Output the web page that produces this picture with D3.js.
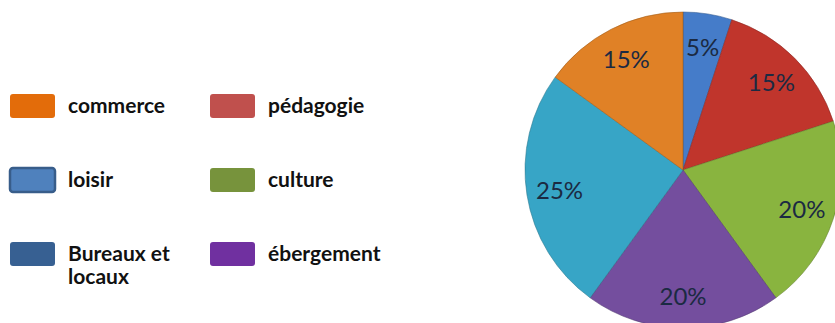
<!DOCTYPE html>
<html><head><meta charset="utf-8">
<script src="https://cdn.jsdelivr.net/npm/d3@7"></script>
<style>html,body{margin:0;padding:0;background:#fff;}svg{display:block;}</style>
</head><body>
<svg id="chart" width="835" height="323"></svg>
<script>
// Legend
const legendLabels = [["commerce"], ["pédagogie"], ["loisir"], ["culture"], ["Bureaux et", "locaux"], ["ébergement"]];
const legendColors = ["#e36c0a", "#c0504d", "#4f81bd", "#77933c", "#376092", "#7030a0"];
const legendStrokes = ["none", "none", "#385d8a", "none", "none", "none"];
// Pie slices, clockwise from 12 o'clock
const sliceNames = ["s1", "s2", "s3", "s4", "s5", "s6"];
const sliceValues = [5, 15, 20, 20, 25, 15];
const sliceLabels = ["5%", "15%", "20%", "20%", "25%", "15%"];
const sliceColors = ["#4d8ae0", "#d63b31", "#98c846", "#8157b0", "#3db8dc", "#f9902a"];

const svg = d3.select("#chart");
const cx = 683, cy = 170, R = 158, rl = 125;

const defs = svg.append("defs");
sliceColors.forEach((c, i) => {
  const g = defs.append("radialGradient").attr("id", "g" + i)
    .attr("gradientUnits", "userSpaceOnUse").attr("cx", cx).attr("cy", cy).attr("r", R);
  const base = d3.rgb(c);
  g.append("stop").attr("offset", "0%").attr("stop-color", base);
  g.append("stop").attr("offset", "90%").attr("stop-color", base);
  g.append("stop").attr("offset", "96%").attr("stop-color", base.brighter(0.15));
  g.append("stop").attr("offset", "100%").attr("stop-color", base.darker(0.3));
});

const pie = d3.pie().sort(null).value(d => d)(sliceValues);
const arc = d3.arc().innerRadius(0).outerRadius(R);
const labelArc = d3.arc().innerRadius(rl).outerRadius(rl);

const gp = svg.append("g").attr("transform", `translate(${cx},${cy})`);
gp.selectAll("path").data(pie).join("path")
  .attr("d", arc)
  .attr("fill", (d, i) => `url(#g${i})`)
  .attr("stroke", (d, i) => d3.rgb(sliceColors[i]).darker(1.3))
  .attr("stroke-opacity", 0.55)
  .attr("stroke-width", 1);

gp.selectAll("text").data(pie).join("text")
  .attr("x", d => labelArc.centroid(d)[0])
  .attr("y", d => labelArc.centroid(d)[1])
  .attr("text-anchor", "middle").attr("dominant-baseline", "central")
  .attr("font-family", "Lato, 'Open Sans', sans-serif").attr("font-size", 24)
  .attr("fill", "#1b2a42")
  .text((d, i) => sliceLabels[i]);

// Legend layout
const colX = [10, 210], rowY = [94, 168, 242];
const lg = svg.append("g");
legendLabels.forEach((lines, i) => {
  const x = colX[i % 2], y = rowY[Math.floor(i / 2)];
  lg.append("rect").attr("x", x).attr("y", y).attr("width", 45).attr("height", 24)
    .attr("rx", 3).attr("fill", legendColors[i])
    .attr("stroke", legendStrokes[i]).attr("stroke-width", 2.5);
  const t = lg.append("text").attr("x", x + 58).attr("y", y + 19)
    .attr("font-family", "Lato, 'Open Sans', sans-serif").attr("font-weight", "bold")
    .attr("font-size", 21).attr("fill", "#111");
  lines.forEach((l, j) => t.append("tspan").attr("x", x + 58).attr("dy", j ? 23 : 0).text(l));
});
</script>
</body></html>
